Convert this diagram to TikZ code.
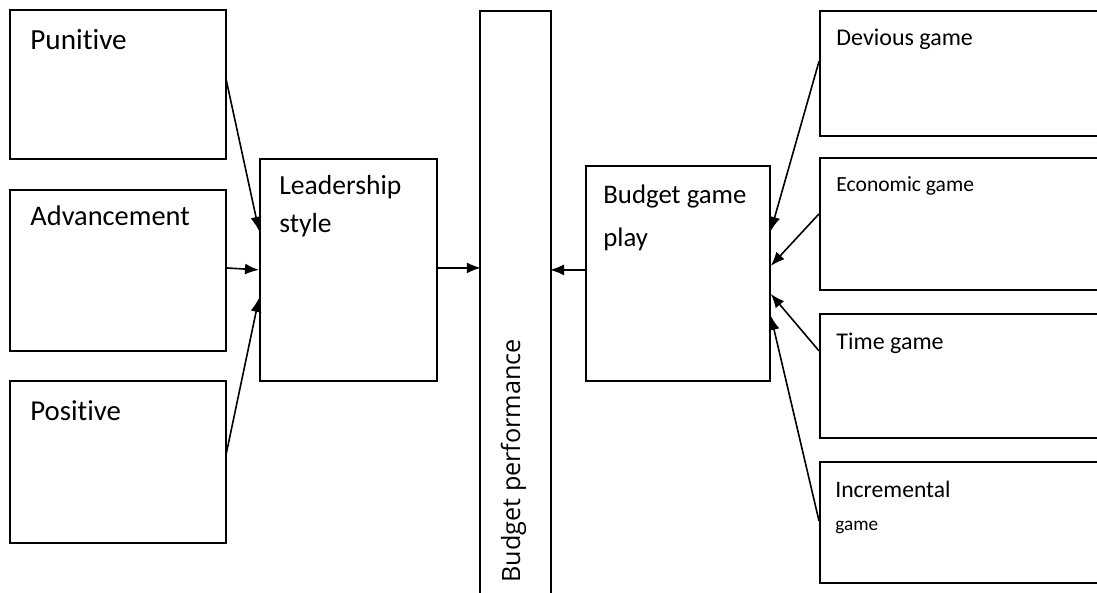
\documentclass[tikz,border=0pt]{standalone}
\usepackage{fontspec}
\setmainfont{Carlito}[Ligatures=NoCommon]
\newfontfamily\perffont{Open Sans}
\usetikzlibrary{arrows.meta,calc}

\begin{document}
\begin{tikzpicture}[x=0.5pt, y=-0.5pt, >={Latex[length=7pt,width=5.5pt]}, font=\fontsize{13}{18.5}\selectfont]

        % --- STYLES ---
        \tikzstyle{box} = [draw=black, line width=0.9pt, fill=white, inner sep=0pt, anchor=north west]
        \tikzstyle{txt} = [inner sep=0pt, anchor=base west, align=left] % base = last line
        \tikzstyle{link} = [draw=black, line width=0.8pt, ->]

        % --- PAGE ---
        \useasboundingbox (0,0) rectangle (1097,593);
        \clip (0,0) rectangle (1097,593);

        % --- LEFT BOXES ---
        \node[box, minimum width=108pt, minimum height=74.5pt] (pun) at (9,9) {};
        \node[txt, font=\fontsize{14.6}{18}\selectfont] (punT) at ($(pun.north west)+(21,41)$) {Punitive};
        \node[box, minimum width=108pt, minimum height=80.5pt] (adv) at (9,189) {};
        \node[txt, font=\fontsize{14.2}{18}\selectfont] (advT) at ($(adv.north west)+(21,37)$) {Advancement};
        \node[box, minimum width=108pt, minimum height=81pt] (pos) at (9,380) {};
        \node[txt, font=\fontsize{14.4}{18}\selectfont] (posT) at ($(pos.north west)+(21,40)$) {Positive};

        % --- LEADERSHIP STYLE ---
        \node[box, minimum width=88.5pt, minimum height=111pt] (lead) at (259,158) {};
        \node[txt, font=\fontsize{13.8}{19}\selectfont] (leadT) at ($(lead.north west)+(20,75)$) {Leadership\\style};

        % --- BUDGET PERFORMANCE (runs off the bottom) ---
        \node[box, minimum width=35.5pt, minimum height=300pt] (bp) at (479,10) {};
        \node[inner sep=0pt, rotate=90, anchor=base west, font=\perffont\fontsize{12.6}{15}\selectfont] (bpT) at (520,583) {Budget performance};

        % --- BUDGET GAME PLAY ---
        \node[box, minimum width=92pt, minimum height=107.5pt] (bgp) at (585,165) {};
        \node[txt, font=\fontsize{13.4}{21.5}\selectfont] (bgpT) at ($(bgp.north west)+(18,82)$) {Budget game\\play};

        % --- GAME BOXES (run off the right edge) ---
        \node[box, minimum width=150pt, minimum height=62.5pt] (dev) at (819,10) {};
        \node[txt, font=\fontsize{12}{15}\selectfont] (devT) at ($(dev.north west)+(17,36)$) {Devious game};
        \node[box, minimum width=150pt, minimum height=66pt] (eco) at (819,157) {};
        \node[txt, font=\fontsize{10.8}{15}\selectfont] (ecoT) at ($(eco.north west)+(17,35)$) {Economic game};
        \node[box, minimum width=150pt, minimum height=62pt] (time) at (819,313) {};
        \node[txt, font=\fontsize{12}{15}\selectfont] (timeT) at ($(time.north west)+(17,36)$) {Time game};
        \node[box, minimum width=150pt, minimum height=60.5pt] (inc) at (819,461) {};
        \node[txt, font=\fontsize{11.8}{16.5}\selectfont] (incT) at ($(inc.north west)+(16,69)$) {Incremental\\{\fontsize{9.6}{12}\selectfont game}};

        % --- CONNECTIONS ---
        \draw[link] ($(pun.east)+(-1,-6.5)$) -- ($(lead.west)+(0,-39)$);
        \draw[link] ($(adv.east)+(-1,-2.5)$) -- (lead.west);
        \draw[link] ($(pos.east)+(-1,-6)$) -- ($(lead.west)+(0,28)$);
        \draw[link] ($(lead.east)+(0,-2)$) -- ($(lead.east)+(43,-2)$);
        \draw[link] ($(bgp.west)+(0,-3.5)$) -- ($(bgp.west)+(-35,-3.5)$);
        \draw[link] ($(dev.west)+(0,-12)$) -- ($(bgp.east)+(0,-42.5)$);
        \draw[link] ($(eco.west)+(0,-10)$) -- ($(bgp.east)+(0,-7.5)$);
        \draw[link] ($(time.west)+(0,-25)$) -- ($(bgp.east)+(0,20.5)$);
        \draw[link] ($(inc.west)+(0,-1.5)$) -- ($(bgp.east)+(0,42.5)$);

\end{tikzpicture}
\end{document}
